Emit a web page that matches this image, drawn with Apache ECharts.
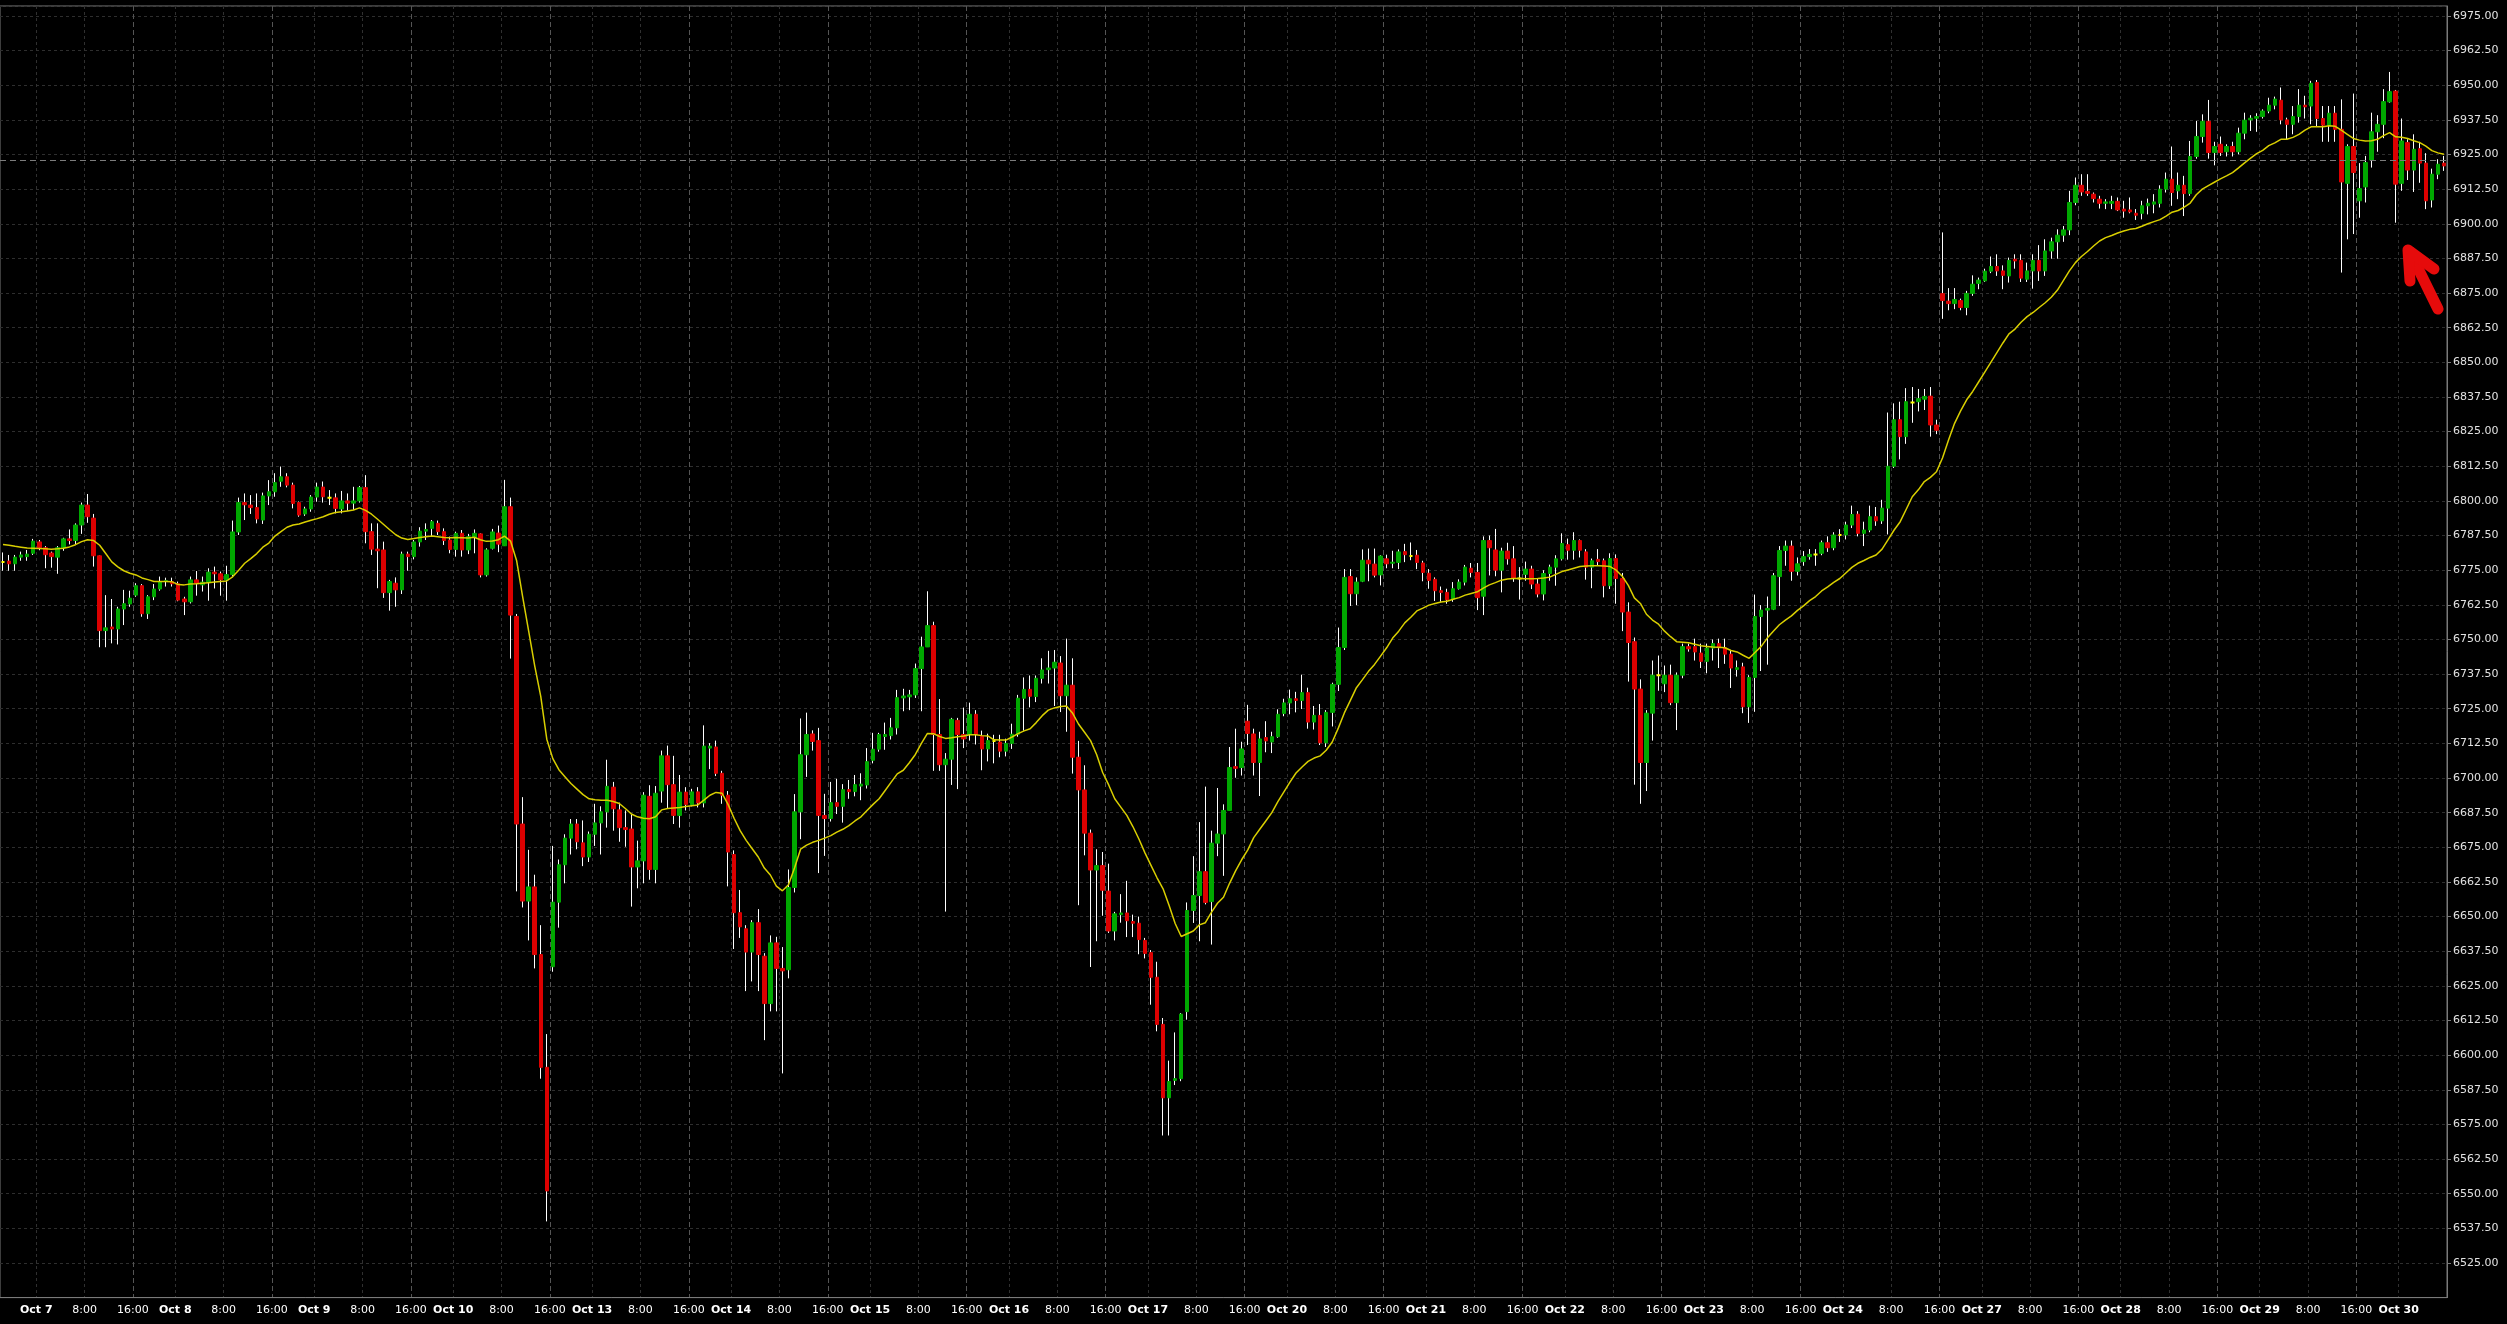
<!DOCTYPE html>
<html><head><meta charset="utf-8">
<script src="https://cdn.jsdelivr.net/npm/echarts@6/dist/echarts.min.js"></script>
<style>html,body{margin:0;padding:0;background:#000;}#c{width:2507px;height:1324px;}</style>
</head><body><div id="c"></div>
<script>
// ---- time axis (hourly bars) ----
const firstEvening = 'Oct 6';
const days = ['Oct 7','Oct 8','Oct 9','Oct 10','Oct 13','Oct 14','Oct 15','Oct 16','Oct 17','Oct 20','Oct 21','Oct 22','Oct 23','Oct 24','Oct 27','Oct 28','Oct 29','Oct 30'];
const eveningHours = [18,19,20,21,22,23];
const sessionHours = [0,1,2,3,4,5,6,7,8,9,10,11,12,13,14,15,16];
const lastSessionHours = [0,1,2,3,4,5,6,7];
const labelHours = [0, 8, 16];
const dimLineHours = [0, 8];
const brightLineHour = 16;

// ---- y ticks ----
const yMin = 6512.5, yMax = 6978.6, yStep = 12.5;
const askPrice = 6922.9;

// ---- OHLC ----
const opens = [
6778.0,6778.3,6777.3,6779.7,6779.9,6781.1,6785.2,6783.1,6781.2,6779.7,
6783.1,6786.3,6785.7,6791.3,6798.5,6793.8,6780.2,6753.2,6754.5,6753.8,
6761.0,6762.8,6766.0,6769.4,6759.3,6765.4,6768.2,6770.9,6770.9,6770.1,
6764.6,6763.6,6771.5,6769.7,6770.7,6774.3,6773.7,6771.5,6773.4,6788.8,
6799.4,6798.5,6797.6,6793.1,6801.8,6803.3,6807.1,6808.7,6805.7,6799.4,
6795.3,6797.1,6801.4,6805.0,6801.1,6801.1,6797.1,6800.0,6799.2,6800.0,
6804.8,6788.9,6782.6,6782.3,6766.9,6770.3,6767.9,6780.8,6779.9,6785.2,
6789.1,6790.1,6791.9,6788.9,6785.9,6782.5,6788.3,6782.3,6786.9,6788.1,
6773.3,6782.9,6788.4,6783.8,6797.9,6758.3,6683.4,6655.6,6660.7,6636.3,
6595.6,6631.9,6655.2,6668.7,6678.3,6683.4,6676.6,6671.5,6679.7,6683.8,
6687.8,6696.7,6688.5,6682.1,6681.6,6667.9,6670.1,6693.4,6667.0,6695.3,
6708.0,6697.6,6686.5,6694.9,6690.3,6695.0,6691.0,6710.8,6711.2,6701.7,
6693.8,6672.4,6651.4,6645.6,6637.2,6647.8,6635.7,6618.6,6640.5,6631.3,
6630.8,6660.5,6687.8,6708.4,6715.9,6713.5,6686.5,6685.4,6691.1,6689.8,
6695.8,6695.1,6697.1,6697.5,6706.4,6710.4,6715.0,6715.3,6718.1,6728.9,
6729.3,6730.0,6739.5,6747.3,6755.0,6715.7,6704.8,6706.8,6720.8,6715.7,
6715.7,6723.0,6715.0,6710.5,6713.4,6713.0,6709.7,6712.5,6715.8,6728.8,
6732.0,6729.4,6736.0,6739.1,6739.7,6741.5,6729.7,6733.5,6707.5,6695.7,
6680.1,6666.8,6668.4,6659.2,6644.8,6650.7,6651.3,6648.2,6647.6,6641.4,
6637.0,6628.1,6611.1,6584.6,6590.9,6591.5,6615.7,6652.2,6657.6,6666.2,
6655.4,6676.5,6679.8,6688.3,6704.1,6703.8,6720.5,6715.9,6705.6,6714.6,
6713.0,6714.9,6723.3,6727.1,6728.6,6728.0,6730.8,6720.2,6722.6,6712.7,
6723.7,6733.8,6747.1,6772.7,6766.5,6771.0,6778.6,6777.2,6773.3,6779.1,
6777.5,6777.8,6781.7,6780.1,6780.4,6777.6,6773.9,6771.7,6767.6,6767.0,
6764.5,6768.3,6770.7,6775.7,6774.2,6765.6,6785.7,6782.3,6775.0,6781.9,
6779.1,6772.0,6773.5,6775.4,6770.0,6766.4,6773.8,6776.1,6779.1,6784.2,
6782.2,6785.7,6781.6,6776.1,6778.9,6778.4,6769.4,6779.2,6772.0,6759.9,
6749.2,6732.1,6705.6,6723.4,6737.1,6734.0,6737.1,6727.2,6737.1,6747.4,
6747.4,6745.1,6742.1,6746.9,6748.5,6747.0,6744.7,6739.2,6740.1,6725.7,
6736.3,6758.3,6760.6,6760.9,6772.7,6782.1,6783.7,6774.6,6778.1,6779.9,
6780.7,6781.1,6784.9,6783.1,6787.7,6787.7,6791.3,6795.2,6788.3,6789.5,
6794.3,6792.8,6797.4,6812.5,6829.3,6823.2,6835.5,6835.8,6836.7,6837.8,
6827.4,6874.8,6872.1,6871.2,6872.3,6869.8,6874.9,6878.5,6879.4,6882.9,
6884.6,6883.0,6881.2,6887.2,6886.8,6880.0,6883.0,6886.8,6883.0,6890.2,
6893.5,6895.9,6897.8,6907.7,6913.9,6911.7,6910.7,6908.9,6907.4,6907.4,
6908.1,6905.3,6905.0,6903.8,6903.8,6906.5,6907.1,6907.4,6912.5,6916.1,
6911.9,6913.9,6910.9,6924.3,6931.5,6937.0,6925.7,6928.7,6926.0,6927.9,
6926.0,6932.7,6937.5,6938.1,6938.7,6940.7,6942.8,6944.6,6937.5,6935.9,
6938.7,6942.8,6942.5,6951.0,6938.0,6935.6,6939.9,6934.1,6914.6,6927.9,
6908.3,6913.3,6923.0,6933.2,6935.9,6944.0,6947.9,6914.6,6929.3,6919.4,
6927.1,6921.9,6908.6,6917.9,6921.9];
const highs = [
6781.4,6780.5,6780.5,6781.7,6782.3,6786.3,6785.9,6783.7,6781.7,6783.7,
6786.7,6789.7,6791.9,6799.4,6802.5,6795.3,6780.3,6766.0,6764.6,6761.8,
6767.9,6767.6,6770.3,6770.0,6766.0,6770.0,6772.7,6772.3,6772.3,6770.9,
6765.4,6772.7,6774.7,6772.7,6775.7,6776.3,6774.5,6776.6,6792.9,6801.2,
6802.7,6802.1,6802.7,6803.0,6807.5,6810.0,6812.4,6810.0,6806.6,6799.8,
6797.9,6802.1,6806.6,6807.0,6803.9,6802.7,6803.6,6802.7,6805.1,6805.4,
6809.3,6791.9,6791.9,6785.3,6771.5,6772.4,6781.7,6781.7,6785.9,6790.5,
6791.9,6793.1,6792.9,6790.1,6787.1,6788.9,6789.5,6788.1,6789.7,6788.3,
6782.9,6789.9,6791.1,6807.6,6801.2,6759.2,6693.1,6674.1,6665.1,6646.9,
6607.6,6675.5,6670.6,6679.7,6685.2,6685.2,6684.7,6680.7,6690.7,6689.8,
6706.6,6698.6,6691.1,6688.3,6687.0,6677.4,6694.9,6697.4,6697.1,6709.9,
6711.7,6708.0,6701.1,6696.7,6696.1,6696.7,6719.0,6712.6,6713.5,6702.6,
6695.3,6673.9,6659.6,6646.9,6648.7,6652.7,6636.8,6643.2,6642.7,6639.0,
6667.0,6694.2,6721.5,6723.6,6717.2,6718.1,6694.3,6698.6,6699.7,6697.8,
6699.3,6701.1,6701.7,6710.8,6716.3,6716.3,6720.0,6721.7,6731.8,6732.2,
6731.8,6741.3,6751.0,6767.4,6756.4,6728.5,6709.0,6721.7,6721.7,6725.4,
6727.2,6724.5,6717.1,6716.0,6715.6,6715.6,6714.2,6719.6,6730.0,6736.3,
6737.0,6737.0,6743.2,6745.9,6746.2,6744.0,6750.3,6743.2,6713.4,6704.6,
6681.4,6674.3,6673.3,6669.1,6651.7,6658.1,6662.9,6650.7,6650.0,6642.3,
6637.9,6633.7,6613.4,6598.0,6608.2,6615.2,6655.1,6671.8,6684.1,6696.9,
6681.0,6696.4,6690.5,6711.2,6717.8,6713.1,6726.4,6717.8,6716.7,6720.5,
6716.7,6724.8,6728.6,6731.9,6731.1,6737.3,6732.6,6726.0,6726.7,6724.5,
6734.4,6754.3,6775.4,6775.4,6772.4,6782.5,6782.8,6782.8,6780.4,6780.6,
6782.0,6782.5,6784.5,6785.0,6782.3,6778.4,6775.4,6772.4,6769.1,6768.3,
6770.7,6771.7,6776.9,6777.6,6777.6,6787.2,6787.5,6789.9,6783.1,6784.9,
6783.7,6776.1,6778.1,6776.6,6772.0,6775.0,6777.0,6780.4,6788.3,6786.4,
6788.7,6786.1,6782.6,6779.2,6782.6,6779.2,6781.1,6780.7,6774.0,6763.4,
6750.7,6735.6,6724.5,6742.4,6744.2,6740.6,6740.9,6738.1,6748.5,6748.5,
6750.3,6748.5,6748.5,6750.0,6750.3,6750.3,6746.2,6742.4,6741.6,6737.1,
6766.2,6762.4,6765.5,6774.0,6783.7,6785.7,6785.7,6779.6,6781.9,6782.6,
6782.6,6785.7,6787.2,6788.7,6789.8,6792.5,6798.3,6796.3,6792.5,6798.3,
6797.8,6800.4,6831.9,6835.2,6835.8,6840.7,6841.1,6840.4,6840.4,6841.1,
6829.3,6896.9,6876.8,6876.8,6873.0,6875.8,6881.4,6880.6,6883.8,6888.2,
6889.0,6885.0,6887.8,6889.0,6889.0,6886.0,6889.0,6892.3,6894.4,6895.0,
6898.0,6899.2,6911.9,6916.7,6917.9,6917.9,6911.3,6910.1,6908.9,6910.1,
6909.5,6908.3,6909.5,6905.3,6908.3,6909.1,6910.7,6913.9,6918.5,6927.9,
6918.5,6917.3,6929.9,6937.1,6939.5,6944.7,6929.6,6931.5,6928.7,6929.6,
6934.7,6940.1,6939.2,6939.9,6941.3,6945.5,6945.9,6949.2,6938.3,6942.5,
6948.6,6946.2,6951.6,6951.9,6942.5,6942.5,6942.5,6944.9,6928.7,6947.0,
6921.9,6924.5,6940.1,6939.2,6948.6,6954.8,6948.3,6938.0,6930.5,6932.3,
6929.6,6925.5,6919.9,6923.3,6924.5];
const lows = [
6774.8,6774.8,6774.8,6778.4,6778.4,6780.5,6782.2,6775.7,6775.9,6773.7,
6782.0,6784.3,6784.3,6788.1,6792.1,6776.3,6747.2,6747.2,6748.6,6748.2,
6755.2,6761.8,6765.4,6758.2,6757.4,6764.2,6767.6,6769.1,6769.1,6763.8,
6758.8,6763.0,6765.8,6767.3,6764.0,6768.4,6765.8,6764.0,6772.7,6787.7,
6793.1,6795.3,6791.9,6791.7,6798.5,6801.5,6805.1,6804.9,6797.3,6794.3,
6794.6,6796.1,6799.7,6799.4,6798.5,6795.5,6795.5,6796.5,6796.7,6799.4,
6784.7,6780.5,6768.5,6765.0,6760.4,6761.8,6766.4,6774.8,6778.9,6783.5,
6785.9,6787.1,6787.7,6784.1,6781.1,6779.9,6779.9,6780.8,6781.1,6772.4,
6772.7,6782.5,6781.5,6783.8,6743.1,6659.1,6653.3,6641.4,6631.3,6591.5,
6540.0,6630.1,6646.0,6662.0,6672.4,6674.3,6668.2,6669.7,6675.5,6672.4,
6682.1,6681.0,6677.0,6675.2,6653.6,6660.2,6662.0,6663.3,6662.0,6691.1,
6688.9,6683.4,6682.1,6688.3,6689.8,6689.4,6689.4,6703.2,6700.7,6690.7,
6660.9,6638.3,6642.3,6623.1,6626.6,6623.1,6605.4,6615.8,6615.8,6593.4,
6627.7,6658.7,6677.9,6700.4,6709.9,6665.7,6671.9,6684.3,6687.0,6683.9,
6692.5,6693.4,6692.0,6696.2,6705.3,6709.5,6710.2,6713.9,6715.7,6724.1,
6724.5,6728.9,6724.1,6747.3,6702.6,6702.6,6651.8,6697.5,6696.0,6710.8,
6713.5,6712.1,6702.8,6706.0,6705.3,6707.5,6707.8,6710.5,6714.9,6717.1,
6725.5,6727.4,6734.1,6734.1,6726.0,6723.8,6716.7,6701.6,6654.1,6672.1,
6631.8,6641.1,6650.3,6644.1,6641.4,6647.8,6642.6,6642.6,6636.4,6634.9,
6618.2,6608.6,6571.0,6571.0,6589.2,6590.6,6612.8,6647.7,6641.1,6654.4,
6639.9,6671.8,6664.7,6688.3,6700.1,6700.9,6711.9,6700.9,6693.5,6709.3,
6709.0,6714.5,6722.3,6723.0,6723.7,6724.9,6717.8,6717.5,6711.9,6711.2,
6718.6,6731.4,6746.2,6762.1,6762.4,6770.7,6771.0,6772.4,6769.5,6775.7,
6775.7,6775.4,6777.9,6778.6,6775.4,6771.0,6768.3,6763.9,6763.6,6762.9,
6763.6,6768.0,6769.5,6772.4,6760.6,6758.8,6773.1,6772.8,6767.0,6777.0,
6770.8,6764.4,6771.2,6768.2,6765.2,6764.1,6771.2,6769.4,6778.5,6778.8,
6778.8,6779.6,6771.6,6768.5,6776.6,6765.2,6768.2,6762.9,6753.0,6734.8,
6697.6,6690.7,6695.3,6713.5,6731.5,6731.0,6726.3,6717.3,6736.0,6745.6,
6742.4,6739.7,6737.8,6742.4,6739.7,6741.2,6732.5,6736.6,6723.4,6719.9,
6723.9,6738.6,6740.9,6760.6,6762.1,6776.6,6771.2,6773.1,6776.6,6778.8,
6776.6,6780.4,6781.6,6782.2,6785.2,6786.1,6790.2,6787.2,6783.7,6788.7,
6791.0,6791.7,6787.9,6811.9,6815.0,6820.6,6828.2,6832.3,6832.8,6823.2,
6824.1,6865.7,6868.8,6869.2,6868.8,6867.0,6874.0,6876.4,6879.0,6882.2,
6881.2,6876.4,6878.8,6883.8,6879.0,6879.0,6876.6,6879.4,6881.2,6887.4,
6887.4,6893.5,6895.9,6906.7,6910.1,6910.1,6907.7,6905.5,6905.3,6905.3,
6904.6,6902.2,6903.8,6901.4,6901.6,6903.4,6903.8,6905.9,6911.3,6906.5,
6908.9,6902.8,6910.1,6923.5,6929.3,6923.5,6921.1,6924.5,6924.3,6924.3,
6925.1,6930.5,6933.5,6933.2,6938.0,6939.9,6941.3,6935.9,6930.5,6932.3,
6936.5,6938.0,6935.9,6935.1,6929.6,6929.6,6929.6,6882.4,6894.4,6896.3,
6902.2,6907.7,6920.3,6926.0,6930.9,6943.7,6900.4,6911.9,6915.8,6911.5,
6914.8,6905.3,6905.9,6916.1,6919.1];
const closes = [
6778.0,6777.3,6779.7,6780.5,6780.8,6785.5,6783.1,6780.6,6779.9,6783.1,
6786.3,6785.7,6791.3,6798.5,6794.3,6780.2,6753.2,6754.2,6753.8,6761.0,
6762.9,6764.9,6769.4,6759.3,6765.4,6768.2,6770.9,6771.3,6770.1,6764.2,
6763.6,6771.5,6770.3,6770.7,6774.3,6773.7,6771.5,6773.4,6788.8,6799.4,
6798.6,6797.6,6793.5,6801.8,6803.3,6806.6,6808.7,6805.7,6799.1,6794.9,
6797.1,6801.4,6805.0,6801.5,6801.1,6797.3,6800.0,6799.2,6800.0,6804.8,
6788.9,6782.6,6782.0,6766.9,6770.9,6767.9,6780.8,6779.9,6785.2,6789.1,
6789.7,6792.5,6788.9,6785.7,6782.5,6788.3,6782.3,6787.1,6788.3,6773.3,
6782.3,6788.8,6784.4,6797.9,6758.8,6683.4,6655.6,6660.7,6636.3,6595.6,
6551.0,6655.2,6668.7,6678.3,6683.4,6677.0,6671.5,6679.7,6683.8,6687.8,
6697.0,6688.9,6682.1,6681.4,6667.9,6670.1,6693.8,6667.0,6694.5,6708.0,
6697.6,6686.5,6694.9,6690.5,6695.0,6691.0,6711.5,6711.5,6701.7,6693.8,
6673.3,6651.4,6646.3,6637.2,6647.8,6636.3,6618.6,6640.5,6631.3,6630.4,
6660.5,6687.8,6708.4,6715.7,6713.2,6686.5,6685.4,6691.1,6689.8,6695.8,
6695.1,6697.6,6697.8,6705.9,6710.4,6715.7,6715.7,6718.1,6729.0,6729.6,
6730.0,6739.5,6747.3,6755.0,6715.7,6704.8,6706.8,6721.2,6715.7,6714.1,
6723.0,6715.7,6710.5,6713.5,6713.4,6709.7,6712.5,6715.8,6728.8,6732.0,
6729.5,6736.0,6739.0,6739.7,6741.8,6729.7,6733.5,6707.5,6695.7,6680.1,
6666.8,6668.4,6659.5,6644.8,6651.0,6651.3,6648.5,6647.6,6641.7,6636.7,
6628.1,6611.1,6584.6,6590.5,6591.5,6614.8,6652.2,6657.6,6666.2,6655.1,
6676.5,6679.8,6688.3,6703.8,6703.5,6710.5,6716.1,6705.6,6714.1,6713.4,
6714.9,6723.0,6727.1,6728.6,6728.0,6730.8,6720.2,6722.6,6712.7,6723.7,
6733.8,6747.1,6772.4,6766.5,6770.7,6778.6,6777.3,6773.2,6780.1,6777.3,
6777.9,6781.6,6780.6,6780.1,6777.8,6774.2,6771.3,6767.6,6767.0,6764.3,
6768.3,6770.7,6776.1,6774.2,6765.1,6785.7,6783.1,6775.0,6781.9,6779.1,
6772.0,6772.0,6775.4,6770.0,6766.4,6773.8,6776.1,6779.1,6784.6,6782.2,
6785.7,6782.2,6776.1,6778.4,6778.1,6769.4,6779.2,6772.0,6759.9,6748.9,
6732.1,6705.6,6723.4,6737.1,6737.1,6737.1,6727.2,6737.1,6747.4,6746.6,
6745.5,6742.1,6746.9,6748.5,6747.0,6744.7,6739.7,6739.8,6725.7,6736.3,
6758.3,6760.6,6761.2,6773.0,6782.1,6783.7,6774.6,6777.3,6779.9,6780.7,
6780.7,6784.9,6783.1,6787.7,6787.7,6791.3,6795.1,6788.3,6789.5,6794.3,
6792.8,6797.4,6812.5,6829.3,6823.2,6835.8,6835.5,6836.9,6837.7,6827.4,
6825.5,6872.3,6871.2,6872.7,6869.8,6874.9,6878.2,6879.7,6882.9,6884.6,
6883.0,6881.4,6886.8,6886.6,6880.4,6883.0,6886.8,6883.0,6890.2,6893.5,
6895.9,6897.8,6907.7,6913.9,6911.5,6911.0,6909.1,6907.4,6907.9,6908.1,
6905.0,6904.6,6904.3,6903.1,6906.5,6907.4,6907.9,6912.5,6916.1,6911.3,
6913.9,6910.9,6924.3,6931.5,6937.0,6925.7,6927.9,6925.7,6927.9,6926.0,
6932.7,6937.4,6938.1,6938.7,6940.7,6942.8,6945.0,6937.5,6935.9,6938.7,
6942.8,6942.2,6950.7,6938.0,6935.6,6939.9,6934.1,6915.1,6927.9,6918.5,
6912.7,6922.1,6933.2,6935.9,6944.1,6947.7,6914.3,6929.9,6919.4,6926.9,
6921.9,6908.3,6917.9,6921.5,6920.9];
// moving average line
const ma = [
6784.3,6784.0,6783.6,6783.3,6783.0,6782.9,6782.8,6782.7,6782.6,6782.7,
6782.9,6783.4,6784.2,6785.3,6786.0,6785.7,6784.0,6781.0,6778.0,6776.2,
6774.8,6773.9,6773.3,6772.2,6771.6,6770.9,6770.9,6770.9,6770.8,6769.8,
6769.7,6770.0,6770.1,6770.3,6770.5,6770.7,6770.9,6771.1,6772.6,6775.0,
6777.5,6779.2,6781.0,6783.3,6784.8,6787.3,6788.9,6790.5,6791.3,6791.7,
6792.4,6793.0,6793.6,6794.3,6795.2,6795.8,6796.1,6796.4,6796.7,6797.5,
6796.6,6795.2,6793.4,6791.5,6789.6,6787.8,6786.6,6786.1,6786.4,6786.8,
6787.1,6787.3,6787.1,6786.8,6786.7,6786.8,6786.7,6786.6,6786.9,6786.0,
6785.4,6785.5,6786.0,6787.3,6785.5,6778.5,6765.5,6753.0,6740.5,6729.5,
6714.0,6707.0,6703.0,6700.5,6698.0,6696.0,6694.0,6692.5,6692.2,6692.0,
6692.0,6691.5,6690.8,6689.0,6687.0,6686.0,6685.5,6685.3,6686.0,6688.5,
6689.0,6689.2,6689.4,6689.7,6690.0,6690.3,6692.0,6693.8,6694.8,6694.5,
6690.5,6685.5,6681.0,6677.5,6674.5,6671.5,6667.5,6665.0,6661.0,6659.3,
6661.5,6667.5,6674.3,6675.8,6676.8,6677.5,6678.3,6679.2,6680.5,6681.5,
6682.8,6684.5,6686.0,6688.3,6690.5,6692.5,6695.5,6698.5,6701.5,6702.8,
6705.5,6708.5,6712.5,6716.1,6716.0,6715.0,6714.3,6714.5,6714.9,6715.2,
6715.6,6715.6,6715.3,6715.2,6713.8,6713.7,6713.7,6714.8,6716.0,6717.0,
6717.8,6720.0,6722.5,6724.5,6725.3,6725.8,6726.0,6723.5,6719.5,6716.5,
6713.5,6708.5,6702.0,6697.5,6692.5,6689.5,6686.5,6682.5,6678.0,6673.0,
6668.5,6664.0,6660.0,6654.0,6647.5,6642.8,6643.8,6644.8,6647.0,6647.8,
6651.5,6654.8,6657.0,6662.0,6666.5,6670.5,6674.0,6678.5,6681.5,6684.5,
6687.5,6691.5,6695.0,6698.5,6701.8,6704.0,6706.0,6707.2,6708.0,6710.0,
6713.0,6718.0,6723.5,6728.0,6732.6,6735.5,6738.5,6741.0,6744.0,6747.0,
6750.5,6753.0,6756.0,6758.0,6760.3,6761.3,6762.4,6763.0,6763.5,6763.8,
6764.5,6765.1,6766.0,6766.6,6767.2,6768.5,6769.7,6770.5,6771.4,6771.8,
6772.0,6772.0,6771.9,6771.9,6772.0,6772.2,6772.5,6773.5,6774.5,6775.1,
6775.7,6776.3,6776.5,6776.6,6776.6,6776.5,6776.3,6775.0,6772.8,6769.5,
6765.0,6763.0,6759.1,6757.0,6755.5,6753.0,6751.0,6749.2,6749.0,6748.8,
6748.3,6747.7,6747.5,6747.3,6747.2,6747.0,6746.0,6745.5,6744.3,6743.2,
6745.4,6747.5,6750.5,6753.0,6755.3,6757.0,6758.5,6760.5,6762.1,6764.0,
6765.5,6767.5,6769.0,6770.6,6772.0,6774.0,6776.0,6777.5,6778.5,6779.6,
6780.5,6782.6,6786.0,6789.5,6792.5,6797.0,6801.5,6804.0,6807.0,6808.5,
6810.5,6815.5,6822.0,6828.0,6832.5,6836.5,6839.5,6843.0,6846.5,6850.0,
6853.5,6857.0,6860.3,6862.0,6864.5,6866.5,6868.0,6869.8,6871.5,6873.5,
6876.0,6879.5,6883.0,6886.0,6888.2,6890.0,6892.0,6893.8,6895.0,6895.8,
6896.7,6897.4,6898.0,6898.3,6899.1,6900.0,6900.8,6901.5,6902.8,6904.2,
6904.8,6906.0,6907.5,6910.5,6912.5,6913.8,6915.0,6916.2,6917.3,6918.5,
6920.2,6922.0,6923.7,6925.3,6926.5,6928.2,6929.2,6930.5,6930.5,6931.2,
6932.3,6933.8,6935.0,6935.0,6935.0,6935.4,6935.2,6933.8,6932.3,6930.8,
6930.2,6929.9,6930.0,6930.5,6931.8,6932.9,6931.4,6931.2,6930.8,6930.0,
6929.3,6928.0,6926.4,6925.6,6925.1];

// ---- build category list ----
const categories = [];
eveningHours.forEach(h => categories.push(firstEvening + '|' + h));
days.forEach((d, k) => {
  const last = k === days.length - 1;
  (last ? lastSessionHours : sessionHours).forEach(h => categories.push(d + '|' + h));
  if (!last) eveningHours.forEach(h => categories.push(d + '|' + h));
});
const hourOf = v => +String(v).split('|')[1];
const dayOf = v => String(v).split('|')[0];

const GREEN = '#00a800', RED = '#dc0000', DOJI = '#ffff00';

const wickData = opens.map((o, i) => [o, closes[i], lows[i], highs[i]]);
const bodyData = opens.map((o, i) => {
  const c = closes[i];
  const v = [o, c, Math.min(o, c), Math.max(o, c)];
  if (o === c) {
    return { value: v, itemStyle: { color: DOJI, color0: DOJI, borderColor: DOJI, borderColor0: DOJI, borderColorDoji: DOJI, borderWidth: 2 } };
  }
  return v;
});

const chart = echarts.init(document.getElementById('c'), null, { renderer: 'canvas', width: 2507, height: 1324 });
const axisGray = '#7a7a7a';
const option = {
  backgroundColor: '#000000',
  animation: false,
  grid: { left: 0, right: 60, top: 6, bottom: 26.4, show: true, borderColor: axisGray, borderWidth: 1, backgroundColor: 'transparent' },
  xAxis: [
    {
      type: 'category', data: categories, boundaryGap: true,
      axisLine: { show: true, lineStyle: { color: axisGray } },
      axisTick: { show: false },
      axisLabel: {
        interval: (i, v) => labelHours.includes(hourOf(v)),
        formatter: v => hourOf(v) === 0 ? '{d|' + dayOf(v) + '}' : hourOf(v) + ':00',
        color: '#ffffff', fontSize: 11, fontFamily: 'DejaVu Sans', margin: 7,
        padding: [0, 6, 0, 0],
        rich: { d: { fontWeight: 'bold', fontSize: 11, color: '#ffffff', fontFamily: 'DejaVu Sans' } }
      },
      splitLine: { show: true, interval: (i, v) => dimLineHours.includes(hourOf(v)), lineStyle: { color: '#303030', type: [3, 3], width: 1 } }
    },
    {
      type: 'category', data: categories, boundaryGap: true, position: 'top',
      axisLine: { show: false }, axisTick: { show: false }, axisLabel: { show: false },
      splitLine: { show: true, interval: (i, v) => hourOf(v) === brightLineHour, lineStyle: { color: '#555555', type: [5, 3], width: 1 } }
    }
  ],
  yAxis: {
    type: 'value', position: 'right', min: yMin, max: yMax, interval: yStep,
    axisLine: { show: true, lineStyle: { color: axisGray } },
    axisTick: { show: true, length: 4, lineStyle: { color: axisGray } },
    axisLabel: { showMinLabel: false, showMaxLabel: false, formatter: v => v.toFixed(2), color: '#e2e2e2', fontSize: 11, fontFamily: 'DejaVu Sans', margin: 6 },
    splitLine: { show: true, lineStyle: { color: '#2e2e2e', type: [3, 3], width: 1 } }
  },
  series: [
    {
      name: 'wick', type: 'candlestick', data: wickData, barWidth: 1, z: 2,
      itemStyle: { color: '#ffffff', color0: '#ffffff', borderColor: '#ffffff', borderColor0: '#ffffff', borderColorDoji: '#ffffff', borderWidth: 1 },
      markLine: {
        silent: true, symbol: ['none', 'none'], label: { show: false },
        lineStyle: { color: '#7c7c7c', type: [6, 4], width: 1 },
        data: [{ yAxis: askPrice }]
      }
    },
    {
      name: 'body', type: 'candlestick', data: bodyData, barWidth: 4, z: 3,
      itemStyle: { color: GREEN, color0: RED, borderColor: GREEN, borderColor0: RED, borderColorDoji: DOJI, borderWidth: 1 }
    },
    {
      name: 'MA', type: 'line', data: ma, symbol: 'none', showSymbol: false, z: 4,
      lineStyle: { color: '#d9cf00', width: 1.5 }
    }
  ],
  graphic: [
    { type: 'polyline', z: 100, shape: { points: [[2438, 309], [2410, 252]] }, style: { stroke: '#e60b0b', lineWidth: 11, lineCap: 'round', fill: null } },
    { type: 'polyline', z: 100, shape: { points: [[2410, 281], [2408, 250], [2434, 269]] }, style: { stroke: '#e60b0b', lineWidth: 11, lineCap: 'round', lineJoin: 'round', fill: null } }
  ]
};
chart.setOption(option);
</script>
</body></html>
